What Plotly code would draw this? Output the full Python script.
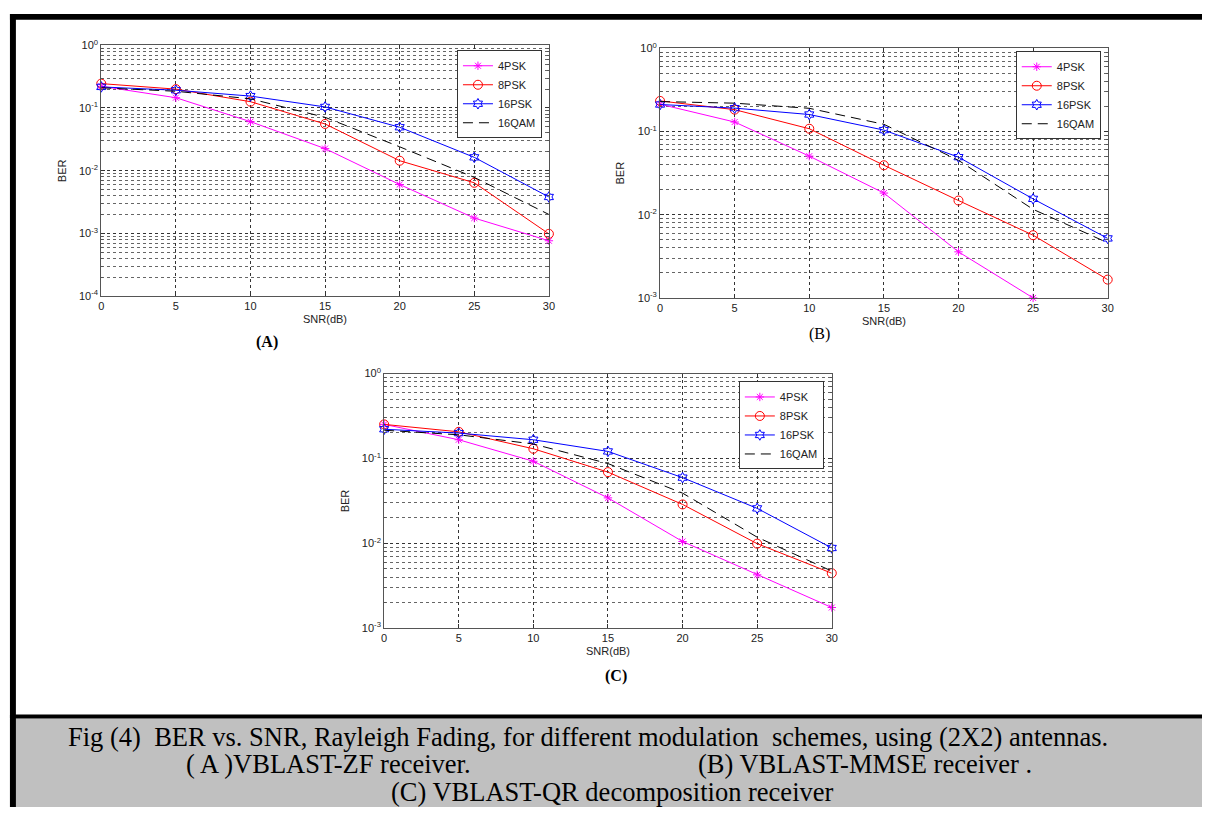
import plotly.graph_objects as go

W, H = 1208, 813

# ---- data -------------------------------------------------------------
snr_db = [0, 5, 10, 15, 20, 25, 30]
series_names = ["4PSK", "8PSK", "16PSK", "16QAM"]

# (A) VBLAST-ZF
zf_4psk = [0.222, 0.146, 0.0605, 0.0225, 0.0060, 0.00175, 0.00076]
zf_8psk = [0.245, 0.200, 0.126, 0.0556, 0.0144, 0.0064, 0.00098]
zf_16psk = [0.217, 0.192, 0.155, 0.104, 0.0493, 0.0163, 0.0038]
zf_16qam = [0.210, 0.185, 0.140, 0.071, 0.024, 0.0078, 0.0020]

# (B) VBLAST-MMSE
mmse_snr_4psk = [0, 5, 10, 15, 20, 25]
mmse_4psk = [0.213, 0.130, 0.0506, 0.0182, 0.00358, 0.0010]
mmse_8psk = [0.233, 0.183, 0.108, 0.0393, 0.0148, 0.00567, 0.00166]
mmse_16psk = [0.211, 0.191, 0.160, 0.104, 0.0492, 0.0155, 0.00519]
mmse_16qam = [0.229, 0.219, 0.190, 0.122, 0.045, 0.0116, 0.0046]

# (C) VBLAST-QR decomposition
qr_4psk = [0.252, 0.166, 0.0926, 0.0343, 0.0105, 0.00425, 0.00175]
qr_8psk = [0.252, 0.206, 0.130, 0.069, 0.0287, 0.0099, 0.00444]
qr_16psk = [0.221, 0.199, 0.166, 0.121, 0.0594, 0.0258, 0.0088]
qr_16qam = [0.215, 0.190, 0.148, 0.087, 0.039, 0.0118, 0.0047]

x_ticks = [0, 5, 10, 15, 20, 25, 30]
ber_tick_vals = [1e-4, 1e-3, 1e-2, 1e-1, 1]
ber_tick_text = ["10<sup>-4</sup>", "10<sup>-3</sup>", "10<sup>-2</sup>",
                 "10<sup>-1</sup>", "10<sup>0</sup>"]

caption_line1 = "Fig (4)  BER vs. SNR, Rayleigh Fading, for different modulation  schemes, using (2X2) antennas."
caption_line2a = "( A )VBLAST-ZF receiver."
caption_line2b = "(B) VBLAST-MMSE receiver ."
caption_line3 = "(C) VBLAST-QR decomposition receiver"


# ---- helpers -----------------------------------------------------------
def fx(px):
    return px / W


def fy(py):
    return 1 - py / H


SANS = "Arial, Liberation Sans, sans-serif"
SERIF = "Times New Roman, Liberation Serif, serif"

styles = {
    "4PSK": dict(color="#ff00ff", symbol="asterisk-open", size=7, dash="solid"),
    "8PSK": dict(color="#ff0000", symbol="circle-open", size=9, dash="solid"),
    "16PSK": dict(color="#0000ff", symbol="hexagram-open", size=8, dash="solid"),
    "16QAM": dict(color="#000000", symbol=None, size=0, dash="10px,6px"),
}

# panel boxes in pixels: (left, top, right, bottom), log10 y-range, legend box corner
panels = [
    dict(box=(99, 38, 550, 293), yr=[-4, 0], leg=(543, 43), label="(A)", label_xy=(266, 340), bold=True,
         data=[(snr_db, zf_4psk), (snr_db, zf_8psk), (snr_db, zf_16psk), (snr_db, zf_16qam)]),
    dict(box=(662, 41, 1113, 295), yr=[-3, 0], leg=(1106, 44), label="(B)", label_xy=(823, 332), bold=False,
         data=[(mmse_snr_4psk, mmse_4psk), (snr_db, mmse_8psk), (snr_db, mmse_16psk), (snr_db, mmse_16qam)]),
    dict(box=(384, 372, 835, 631), yr=[-3, 0], leg=(827, 380), label="(C)", label_xy=(618, 680), bold=True,
         data=[(snr_db, qr_4psk), (snr_db, qr_8psk), (snr_db, qr_16psk), (snr_db, qr_16qam)]),
]

minor_vals = [m * 10.0 ** e for e in range(-4, 0) for m in range(2, 10)]

fig = go.Figure()
layout = dict(
    width=W, height=H, autosize=False,
    margin=dict(l=0, r=0, t=0, b=0),
    paper_bgcolor="white", plot_bgcolor="white",
    font=dict(family=SANS, size=11, color="#222"),
    showlegend=True,
)
annotations = []
shapes = []

for i, p in enumerate(panels):
    n = "" if i == 0 else str(i + 1)
    xa, ya = "x" + n, "y" + n
    leg = "legend" + n
    l, t, r, b = p["box"]
    layout["xaxis" + n] = dict(
        domain=[fx(l), fx(r)], anchor=ya, range=[0, 30],
        tickmode="array", tickvals=x_ticks, ticks="inside", ticklen=4, tickcolor="#333",
        showline=True, linecolor="#555", linewidth=1, mirror="ticks",
        showgrid=True, gridcolor="#333", griddash="3px,3px", gridwidth=1,
        zeroline=False, tickfont=dict(family=SANS, size=11, color="#222"),
    )
    layout["yaxis" + n] = dict(
        domain=[fy(b), fy(t)], anchor=xa, type="log", range=p["yr"],
        tickmode="array", tickvals=ber_tick_vals, ticktext=ber_tick_text,
        ticks="inside", ticklen=4, tickcolor="#333",
        showline=True, linecolor="#555", linewidth=1, mirror="ticks",
        showgrid=True, gridcolor="#333", griddash="3px,3px", gridwidth=1,
        zeroline=False, tickfont=dict(family=SANS, size=11, color="#222"),
        minor=dict(tickmode="array", tickvals=minor_vals, ticks="inside", ticklen=2,
                   tickcolor="#555", showgrid=True, gridcolor="#666",
                   griddash="3px,3px", gridwidth=1),
    )
    layout[leg] = dict(
        x=fx(p["leg"][0]), y=fy(p["leg"][1]), xanchor="right", yanchor="top",
        xref="paper", yref="paper",
        bgcolor="white", bordercolor="#333", borderwidth=1,
        font=dict(family=SANS, size=11, color="#222"), tracegroupgap=0,
    )

    for name, (xs, ys) in zip(series_names, p["data"]):
        s = styles[name]
        mode = "lines" if s["symbol"] is None else "lines+markers"
        marker = None
        if s["symbol"] is not None:
            marker = dict(symbol=s["symbol"], size=s["size"], color=s["color"],
                          line=dict(color=s["color"], width=1))
        fig.add_trace(go.Scatter(
            x=xs, y=ys, name=name, mode=mode, xaxis=xa, yaxis=ya, legend=leg,
            line=dict(color=s["color"], width=1, dash=s["dash"]),
            marker=marker, cliponaxis=False,
        ))

    cx = (l + r) / 2
    annotations.append(dict(text="SNR(dB)", x=fx(cx), y=fy(b + 23), xref="paper", yref="paper",
                            showarrow=False, xanchor="center", yanchor="middle",
                            font=dict(family=SANS, size=11, color="#222")))
    annotations.append(dict(text="BER", x=fx(l - 40), y=fy((t + b) / 2), xref="paper", yref="paper",
                            showarrow=False, xanchor="center", yanchor="middle", textangle=-90,
                            font=dict(family=SANS, size=11, color="#222")))
    lab = "<b>%s</b>" % p["label"] if p["bold"] else p["label"]
    annotations.append(dict(text=lab, x=fx(p["label_xy"][0]), y=fy(p["label_xy"][1]),
                            xref="paper", yref="paper", showarrow=False,
                            xanchor="center", yanchor="middle",
                            font=dict(family=SERIF, size=16, color="black")))

# page frame and caption panel
shapes += [
    dict(type="rect", xref="paper", yref="paper", x0=fx(7), x1=1, y0=fy(813), y1=fy(723),
         fillcolor="#c0c0c0", line=dict(width=0), layer="below"),
    dict(type="rect", xref="paper", yref="paper", x0=fx(7), x1=1, y0=fy(12), y1=fy(6),
         fillcolor="black", line=dict(width=0)),
    dict(type="rect", xref="paper", yref="paper", x0=fx(7), x1=1, y0=fy(723), y1=fy(719),
         fillcolor="black", line=dict(width=0)),
    dict(type="rect", xref="paper", yref="paper", x0=fx(7), x1=fx(13), y0=0, y1=fy(6),
         fillcolor="black", line=dict(width=0)),
]

cap_font = dict(family=SERIF, size=26.5, color="black")
annotations += [
    dict(text=caption_line1, x=fx(589), y=fy(742), xref="paper", yref="paper", showarrow=False,
         xanchor="center", yanchor="middle", font=cap_font),
    dict(text=caption_line2a, x=fx(182), y=fy(769), xref="paper", yref="paper", showarrow=False,
         xanchor="left", yanchor="middle", font=cap_font),
    dict(text=caption_line2b, x=fx(698), y=fy(769), xref="paper", yref="paper", showarrow=False,
         xanchor="left", yanchor="middle", font=cap_font),
    dict(text=caption_line3, x=fx(614), y=fy(798), xref="paper", yref="paper", showarrow=False,
         xanchor="center", yanchor="middle", font=cap_font),
]

layout["annotations"] = annotations
layout["shapes"] = shapes
fig.update_layout(**layout)

fig.write_html("out.html",
               post_script="document.body.style.margin='0px';document.body.style.overflow='hidden';")
